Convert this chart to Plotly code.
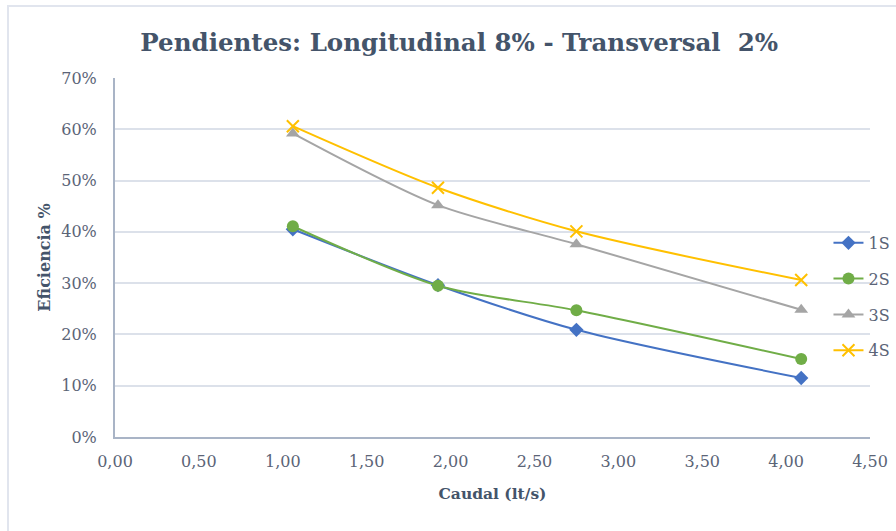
import plotly.graph_objects as go

# Caudal (lt/s) measured for each test
caudal = [1.06, 1.925, 2.75, 4.09]

# Captured efficiency per configuration (fraction)
ef_1s = [0.405, 0.296, 0.209, 0.115]
ef_2s = [0.411, 0.295, 0.247, 0.152]
ef_3s = [0.592, 0.452, 0.376, 0.248]
ef_4s = [0.606, 0.486, 0.401, 0.306]

series_names = ["1S", "2S", "3S", "4S"]
x_ticks = [0, 0.5, 1.0, 1.5, 2.0, 2.5, 3.0, 3.5, 4.0, 4.5]
x_tick_text = ["0,00", "0,50", "1,00", "1,50", "2,00", "2,50", "3,00", "3,50", "4,00", "4,50"]
y_ticks = [0, 0.1, 0.2, 0.3, 0.4, 0.5, 0.6, 0.7]
y_tick_text = ["0%", "10%", "20%", "30%", "40%", "50%", "60%", "70%"]

FONT = "DejaVu Serif"
TITLE_COLOR = "#44546A"
TICK_COLOR = "#5B6477"

styles = [
    dict(color="#4472C4", symbol="diamond", size=11, line=dict(width=0)),
    dict(color="#70AD47", symbol="circle", size=12, line=dict(width=0)),
    dict(color="#A5A5A5", symbol="triangle-up", size=12, line=dict(width=0)),
    dict(color="#FFC000", symbol="x-thin", size=12, line=dict(width=2, color="#FFC000")),
]

fig = go.Figure()
for name, vals, st in zip(series_names, [ef_1s, ef_2s, ef_3s, ef_4s], styles):
    fig.add_trace(go.Scatter(
        x=caudal, y=vals, name=name, mode="lines+markers",
        line=dict(color=st["color"], width=2, shape="spline", smoothing=0.8),
        marker=st,
        legendgroup=name,
    ))

fig.update_layout(
    width=896, height=531,
    margin=dict(l=115, r=26, t=78, b=94, autoexpand=False),
    paper_bgcolor="white", plot_bgcolor="white",
    font=dict(family=FONT, color=TICK_COLOR, size=16),
    title=dict(
        text="<b>Pendientes: Longitudinal 8% - Transversal  2%</b>",
        x=0.5125, xanchor="center", y=0.92, yanchor="middle",
        font=dict(family=FONT, size=24.5, color=TITLE_COLOR),
    ),
    xaxis=dict(
        range=[0, 4.5], tickvals=x_ticks, ticktext=x_tick_text,
        showgrid=False, zeroline=False,
        showline=True, linecolor="#A9B4C6", linewidth=2,
        ticks="", ticklabelstandoff=9, tickfont=dict(family=FONT, size=16, color=TICK_COLOR),
        title=dict(text="<b>Caudal (lt/s)</b>", font=dict(family=FONT, size=15.5, color=TITLE_COLOR), standoff=18),
    ),
    yaxis=dict(
        range=[0, 0.7], tickvals=y_ticks, ticktext=y_tick_text,
        showgrid=True, gridcolor="#DCE1EA", gridwidth=2, zeroline=False,
        showline=True, linecolor="#A9B4C6", linewidth=2,
        ticks="", ticklabelstandoff=13, tickfont=dict(family=FONT, size=16, color=TICK_COLOR),
        title=dict(text="<b>Eficiencia %</b>", font=dict(family=FONT, size=16, color=TITLE_COLOR), standoff=7),
    ),
    legend=dict(
        x=0.945, xanchor="left", y=0.588, yanchor="top",
        bgcolor="rgba(0,0,0,0)", font=dict(family=FONT, size=16, color=TICK_COLOR),
        traceorder="grouped", tracegroupgap=12,
    ),
    shapes=[dict(
        type="rect", xref="paper", yref="paper",
        x0=-0.1417, x1=1.06, y0=-0.28, y1=1.2006,
        line=dict(color="#E1E5EE", width=2), fillcolor="rgba(0,0,0,0)", layer="below",
    )],
)

fig.write_html("out.html")
